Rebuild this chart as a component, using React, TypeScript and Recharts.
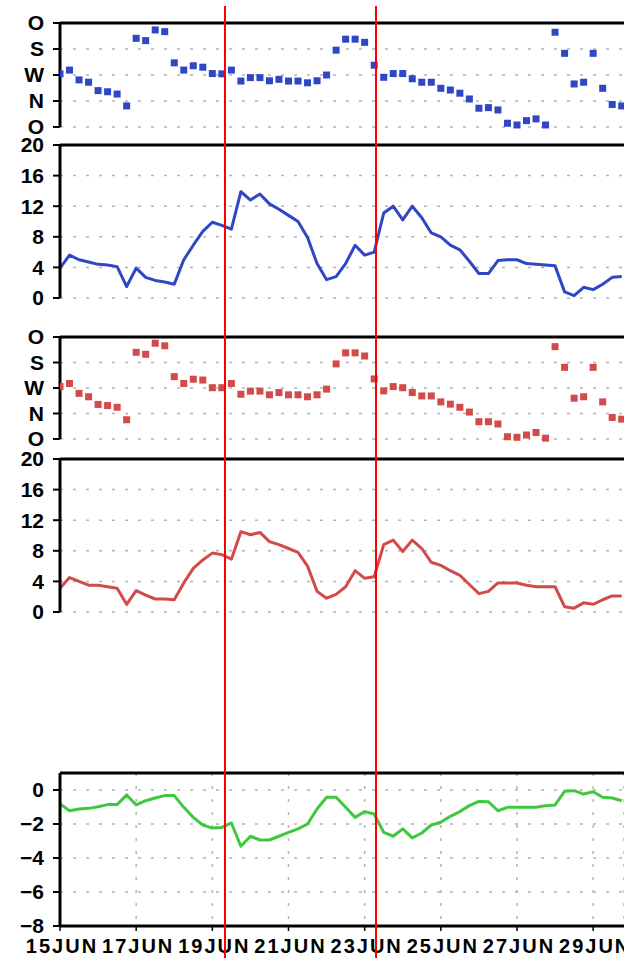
import { LineChart, Line, XAxis, YAxis, CartesianGrid, ReferenceLine } from 'recharts'

// 6-hourly samples starting 15JUN 00Z
const STEP_DAYS = 0.25
const X_MAX = 14.81
const X_TICK_DAYS = [0, 2, 4, 6, 8, 10, 12, 14]
const X_TICK_LABELS = ['15JUN', '17JUN', '19JUN', '21JUN', '23JUN', '25JUN', '27JUN', '29JUN']

const DIR_TICKS = [0, 90, 180, 270, 360]
const DIR_LABELS = ['O', 'N', 'W', 'S', 'O']
const SPEED_TICKS = [0, 4, 8, 12, 16, 20]
const ANOM_TICKS = [-8, -6, -4, -2, 0]

// red marker lines (days after 15JUN 00Z)
const MARKER_DAYS = [4.33, 8.29]

const blueDir = [
  184, 197, 163, 155, 126, 122, 114, 73, 307, 299, 336, 330, 222, 197, 212, 207, 185, 184, 197, 159,
  171, 171, 160, 165, 159, 159, 153, 160, 180, 266, 304, 304, 293, 214, 172, 185, 185, 167, 155, 155,
  134, 128, 117, 97, 65, 67, 59, 13, 7, 22, 28, 7, 328, 255, 149, 155, 255, 134, 78, 73,
]
const blueSpeed = [
  3.9, 5.6, 5.0, 4.7, 4.4, 4.3, 4.1, 1.5, 3.9, 2.7, 2.3, 2.1, 1.8, 5.0, 6.9, 8.7, 9.9, 9.5, 9.0, 13.9,
  12.8, 13.6, 12.3, 11.6, 10.8, 10.0, 7.9, 4.5, 2.4, 2.8, 4.5, 6.9, 5.6, 6.0, 11.1, 12.0, 10.2, 12.0, 10.5, 8.5,
  8.0, 6.9, 6.3, 4.8, 3.2, 3.2, 4.9, 5.0, 5.0, 4.5, 4.4, 4.3, 4.2, 0.8, 0.3, 1.4, 1.1, 1.8, 2.7, 2.8,
]
const redDir = [
  185, 196, 161, 149, 122, 118, 112, 68, 306, 299, 338, 329, 220, 196, 211, 208, 181, 181, 196, 158,
  169, 169, 156, 164, 156, 156, 149, 156, 176, 265, 304, 304, 293, 212, 170, 185, 181, 164, 152, 152,
  131, 123, 112, 95, 61, 61, 53, 8, 6, 14, 23, 3, 326, 253, 144, 149, 253, 131, 76, 70,
]
const redSpeed = [
  3.1, 4.5, 4.0, 3.5, 3.5, 3.3, 3.1, 1.0, 2.8, 2.2, 1.7, 1.7, 1.6, 3.8, 5.7, 6.8, 7.7, 7.5, 6.9, 10.5,
  10.1, 10.4, 9.2, 8.8, 8.3, 7.8, 6.0, 2.7, 1.8, 2.3, 3.3, 5.4, 4.4, 4.6, 8.8, 9.4, 7.9, 9.4, 8.3, 6.5,
  6.1, 5.4, 4.8, 3.6, 2.4, 2.7, 3.8, 3.8, 3.8, 3.5, 3.3, 3.3, 3.3, 0.7, 0.5, 1.2, 1.0, 1.6, 2.1, 2.1,
]
const greenVals = [
  -0.82, -1.22, -1.12, -1.08, -0.98, -0.86, -0.86, -0.29, -0.88, -0.63, -0.47, -0.33, -0.33, -1.02, -1.61,
  -2.06, -2.24, -2.2, -1.94, -3.31, -2.72, -2.94, -2.94, -2.72, -2.49, -2.29, -2.0, -1.12, -0.43, -0.43,
  -1.02, -1.61, -1.27, -1.41, -2.49, -2.72, -2.29, -2.82, -2.53, -2.06, -1.9, -1.55, -1.27, -0.92, -0.67,
  -0.69, -1.22, -1.02, -1.02, -1.02, -1.02, -0.92, -0.88, -0.08, -0.04, -0.24, -0.1, -0.43, -0.47, -0.63,
]

const BLUE = '#2f47c4'
const RED = '#d24a4a'
const GREEN = '#3fc83f'

const WIDTH = 624
const AXIS_W = 60
const PX_PER_DAY = (WIDTH - AXIS_W) / X_MAX
const MINOR_TICKS = blueDir.map((_, i) => i * STEP_DAYS)

const FONT = '"Liberation Sans", Arial, sans-serif'
const tickStyle = { fill: '#000', fontSize: 21, fontWeight: 'bold' as const, fontFamily: FONT }

type PanelProps = {
  top: number
  plotH: number
  values: number[]
  domain: [number, number]
  ticks: number[]
  labels?: string[]
  color: string
  dots?: boolean
  dateAxis?: boolean
}

function DateTick(props: any) {
  const { x, y, payload } = props
  const label = X_TICK_LABELS[X_TICK_DAYS.indexOf(payload.value)]
  return (
    <text x={x + 2} y={y} dy={20} textAnchor="middle" fill="#000" fontSize={20} fontWeight="bold" letterSpacing={2} fontFamily={FONT}>
      {label}
    </text>
  )
}

function Panel({ top, plotH, values, domain, ticks, labels, color, dots = false, dateAxis = false }: PanelProps) {
  const data = values.map((v, i) => ({ t: i * STEP_DAYS, v }))
  const mt = 12
  const xAxisH = dateAxis ? 34 : 0
  const mb = dateAxis ? 0 : 10
  const height = mt + plotH + xAxisH + mb

  const fmt = (v: number) => {
    if (labels) return labels[ticks.indexOf(v)] ?? ''
    return v < 0 ? `\u2212${-v}` : `${v}`
  }

  return (
    <div style={{ position: 'absolute', left: 0, top: top - mt }}>
      <LineChart width={WIDTH} height={height} data={data} margin={{ top: mt, right: 0, bottom: mb, left: 0 }}>
        <CartesianGrid
          stroke="#b4b4b4"
          strokeWidth={1.5}
          strokeDasharray="3 10"
          vertical={dateAxis}
        />
        <XAxis
          dataKey="t"
          type="number"
          domain={[0, X_MAX]}
          allowDataOverflow
          ticks={dateAxis ? X_TICK_DAYS : MINOR_TICKS}
          interval={0}
          height={xAxisH}
          axisLine={{ stroke: '#000', strokeWidth: 3 }}
          tickLine={{ stroke: '#000', strokeWidth: 1.5 }}
          tickSize={dateAxis ? 5 : 3}
          tick={dateAxis ? <DateTick /> : () => <g />}
        />
        <YAxis
          type="number"
          domain={domain}
          ticks={ticks}
          interval={0}
          width={AXIS_W}
          axisLine={{ stroke: '#000', strokeWidth: 3 }}
          tickLine={{ stroke: '#000', strokeWidth: 2 }}
          tickSize={7}
          tickMargin={9}
          tick={tickStyle}
          tickFormatter={fmt}
        />
        <ReferenceLine y={domain[1]} stroke="#000" strokeWidth={3} />
        {dots ? (
          <Line
            dataKey="v"
            stroke="none"
            isAnimationActive={false}
            activeDot={false}
            dot={(p: any) => (
              <rect key={`d-${p.index}`} x={p.cx - 3.5} y={p.cy - 3.5} width={7} height={7} fill={color} />
            )}
          />
        ) : (
          <Line
            dataKey="v"
            type="linear"
            stroke={color}
            strokeWidth={3}
            strokeLinejoin="round"
            dot={false}
            activeDot={false}
            isAnimationActive={false}
          />
        )}
      </LineChart>
    </div>
  )
}

export default function App() {
  return (
    <div
      style={{
        position: 'absolute',
        left: 0,
        top: 0,
        width: WIDTH,
        height: 958,
        overflow: 'hidden',
        background: '#fff',
        fontFamily: FONT,
      }}
    >
      <Panel top={23} plotH={104} values={blueDir} domain={[0, 360]} ticks={DIR_TICKS} labels={DIR_LABELS} color={BLUE} dots />
      <Panel top={145} plotH={153} values={blueSpeed} domain={[0, 20]} ticks={SPEED_TICKS} color={BLUE} />
      <Panel top={337} plotH={102} values={redDir} domain={[0, 360]} ticks={DIR_TICKS} labels={DIR_LABELS} color={RED} dots />
      <Panel top={459} plotH={153} values={redSpeed} domain={[0, 20]} ticks={SPEED_TICKS} color={RED} />
      <Panel top={773} plotH={153} values={greenVals} domain={[-8, 1]} ticks={ANOM_TICKS} color={GREEN} dateAxis />

      {MARKER_DAYS.map((d) => (
        <div
          key={d}
          style={{
            position: 'absolute',
            left: AXIS_W + d * PX_PER_DAY - 1,
            top: 6,
            width: 2,
            height: 952,
            background: '#ff0000',
          }}
        />
      ))}
    </div>
  )
}
